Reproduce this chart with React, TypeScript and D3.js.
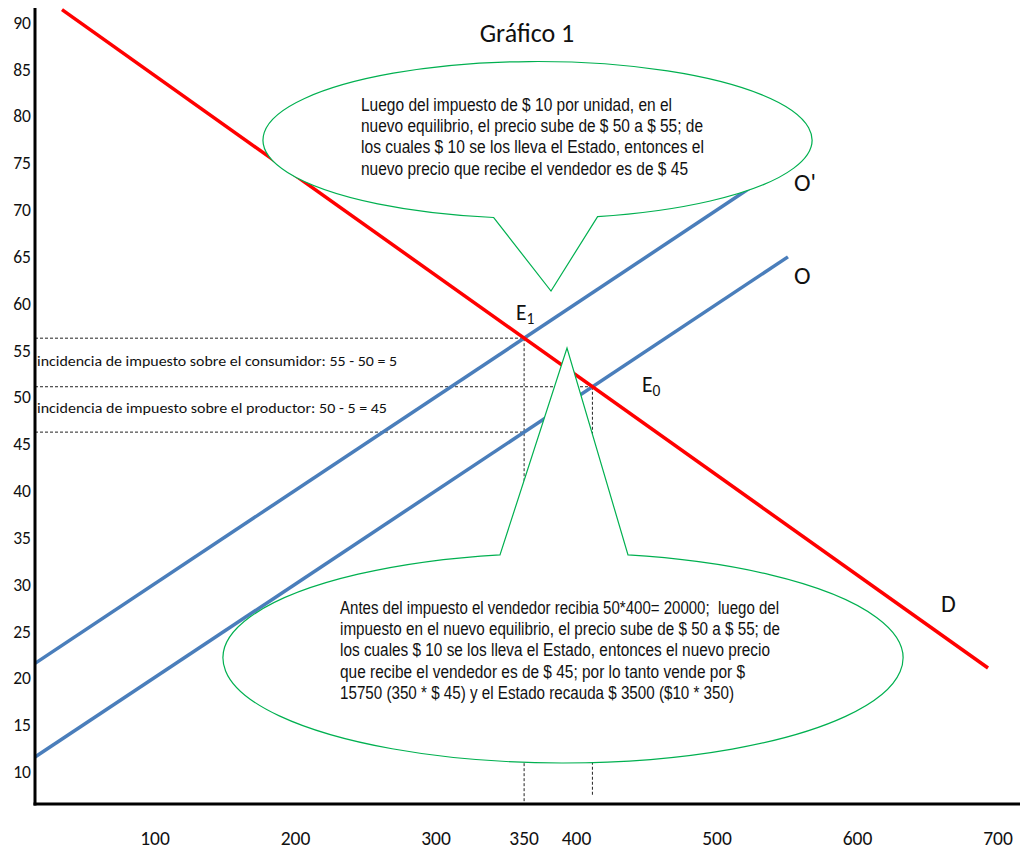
import React from "react";
import * as d3 from "d3";

// ---------- data ----------
const yTicks = [10, 15, 20, 25, 30, 35, 40, 45, 50, 55, 60, 65, 70, 75, 80, 85, 90];
const xTicks = [100, 200, 300, 350, 400, 500, 600, 700];

// lines as (quantity, price) end points
const demandD = [{ q: 33.8, p: 91.4 }, { q: 692.9, p: 21.1 }];
const supplyO = [{ q: 14.6, p: 11.6 }, { q: 550.5, p: 65.0 }];
const supplyO1 = [{ q: 14.6, p: 21.6 }, { q: 535, p: 73.5 }];

const title = "Gráfico 1";
const topNote = [
  "Luego del impuesto de $ 10 por unidad, en el",
  "nuevo equilibrio, el precio sube de $ 50 a $ 55; de",
  "los cuales $ 10 se los lleva el Estado, entonces el",
  "nuevo precio que recibe el vendedor es de $ 45",
];
const topNoteWidths = [311, 342, 343, 327];
const bottomNote = [
  "Antes del impuesto el vendedor recibia 50*400= 20000;  luego del",
  "impuesto en el nuevo equilibrio, el precio sube de $ 50 a $ 55; de",
  "los cuales $ 10 se los lleva el Estado, entonces el nuevo precio",
  "que recibe el vendedor es de $ 45; por lo tanto vende por $",
  "15750 (350 * $ 45) y el Estado recauda $ 3500 ($10 * 350)",
];
const bottomNoteWidths = [439, 440, 430, 405, 394];
const incidence = [
  "incidencia de impuesto sobre el consumidor: 55 - 50 = 5",
  "incidencia de impuesto sobre el productor: 50 - 5 = 45",
];
const incidenceWidths = [360, 350];

// ---------- layout ----------
const W = 1021;
const H = 850;
const plot = { left: 35, top: 8, right: 1020, bottom: 804 };
const RED = "#FF0000";
const BLUE = "#4A7EBB";
const GREEN = "#00B050";
const FONT = "Carlito, Calibri, Lato, sans-serif";
const NARROW = "'Liberation Sans Narrow', 'Arial Narrow', 'Liberation Sans', Arial, sans-serif";

const xScale = d3.scaleLinear().domain([100, 700]).range([155, 998]);
const yScale = d3.scaleLinear().domain([10, 90]).range([772, 22.7]);

type Pt = { q: number; p: number };
const lineGen = d3
  .line<Pt>()
  .x((d) => xScale(d.q))
  .y((d) => yScale(d.p));

function slopeOf(l: Pt[]) {
  return (l[1].p - l[0].p) / (l[1].q - l[0].q);
}
function priceAt(l: Pt[], q: number) {
  return l[0].p + slopeOf(l) * (q - l[0].q);
}
function intersect(a: Pt[], b: Pt[]): Pt {
  const sa = slopeOf(a);
  const sb = slopeOf(b);
  const q = (b[0].p - sb * b[0].q - (a[0].p - sa * a[0].q)) / (sa - sb);
  return { q, p: priceAt(a, q) };
}

const E1 = intersect(demandD, supplyO1);
const E0 = intersect(demandD, supplyO);
const sellerPrice = priceAt(supplyO, E1.q);

type Callout = {
  cx: number; cy: number; rx: number; ry: number;
  b0: number; b1: number; ax: number; ay: number; down: boolean;
};
const topCallout: Callout = { cx: 537.5, cy: 140, rx: 274.5, ry: 78.5, b0: 493.5, b1: 597.6, ax: 551, ay: 291, down: true };
const bottomCallout: Callout = { cx: 563, cy: 658, rx: 340, ry: 105, b0: 500, b1: 628, ax: 567, ay: 348, down: false };

function calloutPath(c: Callout) {
  const yAt = (x: number) => {
    const t = Math.sqrt(Math.max(0, 1 - ((x - c.cx) / c.rx) ** 2));
    return c.down ? c.cy + c.ry * t : c.cy - c.ry * t;
  };
  const y0 = yAt(c.b0);
  const y1 = yAt(c.b1);
  const sweep = c.down ? 0 : 1;
  return `M${c.b0},${y0} L${c.ax},${c.ay} L${c.b1},${y1} A${c.rx},${c.ry} 0 1 ${sweep} ${c.b0},${y0} Z`;
}

export default function App() {
  const dash = { stroke: "#222", strokeWidth: 1, strokeDasharray: "3 2", fill: "none" };
  return (
    <svg width={W} height={H} style={{ display: "block", position: "absolute", left: 0, top: 0, background: "#fff" }}>
      <rect x={0} y={0} width={W} height={H} fill="#fff" />

      {/* dashed guides */}
      <line x1={plot.left} x2={xScale(E1.q)} y1={yScale(E1.p)} y2={yScale(E1.p)} style={dash} />
      <line x1={plot.left} x2={xScale(E0.q)} y1={yScale(E0.p)} y2={yScale(E0.p)} style={dash} />
      <line x1={plot.left} x2={xScale(E1.q)} y1={yScale(sellerPrice)} y2={yScale(sellerPrice)} style={dash} />
      <line x1={xScale(E1.q)} x2={xScale(E1.q)} y1={yScale(E1.p)} y2={plot.bottom} style={dash} />
      <line x1={xScale(E0.q)} x2={xScale(E0.q)} y1={yScale(E0.p)} y2={plot.bottom - 8} style={dash} />

      {/* curves */}
      <path d={lineGen(supplyO) || ""} stroke={BLUE} strokeWidth={3.5} fill="none" />
      <path d={lineGen(supplyO1) || ""} stroke={BLUE} strokeWidth={3.5} fill="none" />
      <path d={lineGen(demandD) || ""} stroke={RED} strokeWidth={3.5} fill="none" />

      {/* callouts */}
      <path d={calloutPath(topCallout)} fill="#fff" stroke={GREEN} strokeWidth={1.2} />
      <path d={calloutPath(bottomCallout)} fill="#fff" stroke={GREEN} strokeWidth={1.2} />

      {topNote.map((t, i) => (
        <text key={"t" + i} x={361} y={110.7 + i * 21.3} fontFamily={NARROW} fontSize={17.5}
          textLength={topNoteWidths[i]} lengthAdjust="spacingAndGlyphs" fill="#111" style={{ whiteSpace: "pre" }}>
          {t}
        </text>
      ))}
      {bottomNote.map((t, i) => (
        <text key={"b" + i} x={340} y={614 + i * 21.2} fontFamily={NARROW} fontSize={17.5}
          textLength={bottomNoteWidths[i]} lengthAdjust="spacingAndGlyphs" fill="#111" style={{ whiteSpace: "pre" }}>
          {t}
        </text>
      ))}

      {/* incidence texts */}
      {incidence.map((t, i) => (
        <text key={"i" + i} x={37} y={366 + i * 47} fontFamily={FONT} fontSize={14.5}
          textLength={incidenceWidths[i]} lengthAdjust="spacingAndGlyphs" fill="#111">
          {t}
        </text>
      ))}

      {/* axes */}
      <line x1={plot.left} x2={plot.left} y1={plot.top} y2={plot.bottom + 1.5} stroke="#000" strokeWidth={3} />
      <line x1={plot.left - 1.5} x2={plot.right} y1={plot.bottom} y2={plot.bottom} stroke="#000" strokeWidth={3} />

      {yTicks.map((v) => (
        <text key={"y" + v} x={31} y={yScale(v)} textAnchor="end" dominantBaseline="central"
          fontFamily={FONT} fontSize={17.5} fill="#111">
          {v}
        </text>
      ))}
      {xTicks.map((v) => (
        <text key={"x" + v} x={xScale(v === 350 ? E1.q : v)} y={838} textAnchor="middle" dominantBaseline="central"
          fontFamily={FONT} fontSize={19.5} fill="#111">
          {v}
        </text>
      ))}

      {/* title and labels */}
      <text x={527} y={33} textAnchor="middle" dominantBaseline="central" fontFamily={FONT} fontSize={26} fill="#111">
        {title}
      </text>
      <text x={516} y={320} fontFamily={FONT} fontSize={21.5} fill="#111">
        E<tspan fontSize={15.5} dy={4}>1</tspan>
      </text>
      <text x={642} y={392} fontFamily={FONT} fontSize={21.5} fill="#111">
        E<tspan fontSize={15.5} dy={4}>0</tspan>
      </text>
      <text x={794} y={191} fontFamily={FONT} fontSize={25} fill="#111">O'</text>
      <text x={794} y={284} fontFamily={FONT} fontSize={25} fill="#111">O</text>
      <text x={941} y={612} fontFamily={FONT} fontSize={24} fill="#111">D</text>
    </svg>
  );
}
